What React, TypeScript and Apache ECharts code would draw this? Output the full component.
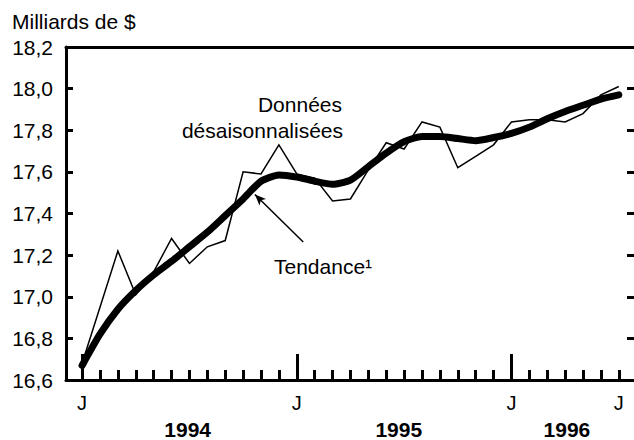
import React, { useEffect, useRef } from "react";
import * as echarts from "echarts";

// Monthly values, January 1994 (index 0) to July 1996 (index 30)
const seasonallyAdjusted = [
  16.68, 16.95, 17.22, 17.01, 17.12, 17.28, 17.16, 17.24, 17.27, 17.6, 17.59, 17.73,
  17.59, 17.57, 17.46, 17.47, 17.61, 17.74, 17.71, 17.84, 17.815, 17.62, 17.675, 17.73,
  17.84, 17.85, 17.85, 17.84, 17.88, 17.97, 18.01,
];
const trend = [
  16.67, 16.82, 16.94, 17.03, 17.105, 17.17, 17.24, 17.31, 17.39, 17.47, 17.555, 17.585,
  17.575, 17.555, 17.54, 17.56, 17.625, 17.69, 17.745, 17.77, 17.77, 17.76, 17.75, 17.765,
  17.785, 17.815, 17.855, 17.89, 17.92, 17.95, 17.97,
];
const monthTicks = seasonallyAdjusted.map((_, i) => i);
const yearStartTicks = [0, 12, 24];
const monthLabelValues = [0, 12, 24, 30];
const monthLabel = "J";
const yearLabels = ["1994", "1995", "1996"];
const yearLabelValues = [5.9, 17.7, 27.1];
const yMin = 16.6;
const yMax = 18.2;
const yStep = 0.2;

const FONT = "'Liberation Sans', Arial, Helvetica, sans-serif";

export default function App() {
  const ref = useRef<HTMLDivElement>(null);
  useEffect(() => {
    if (!ref.current) return;
    const chart = echarts.init(ref.current, undefined, { renderer: "svg" });
    const xMin = -0.9;
    const xMax = 30.85;
    const line = { lineStyle: { color: "#000", width: 3 } };
    chart.setOption({
      animation: false,
      backgroundColor: "#fff",
      grid: { left: 66, right: 0, top: 47, bottom: 55 },
      xAxis: [
        {
          type: "value",
          position: "bottom",
          min: xMin,
          max: xMax,
          axisLine: { show: true, onZero: false, ...line },
          axisTick: {
            show: true,
            inside: true,
            length: 10,
            customValues: monthTicks,
            lineStyle: { color: "#000", width: 3 },
          },
          axisLabel: {
            show: true,
            customValues: monthLabelValues,
            formatter: () => monthLabel,
            color: "#000",
            fontFamily: FONT,
            fontSize: 20,
            margin: 13,
          },
          splitLine: { show: false },
        },
        {
          type: "value",
          position: "bottom",
          min: xMin,
          max: xMax,
          axisLine: { show: false },
          axisTick: {
            show: true,
            inside: true,
            length: 26,
            customValues: yearStartTicks,
            lineStyle: { color: "#000", width: 3 },
          },
          axisLabel: {
            show: true,
            customValues: yearLabelValues,
            formatter: (v: number) => {
              const k = yearLabelValues.findIndex((p) => Math.abs(p - v) < 1e-6);
              return k >= 0 ? yearLabels[k] : "";
            },
            color: "#000",
            fontFamily: FONT,
            fontSize: 21,
            fontWeight: "bold",
            margin: 39,
          },
          splitLine: { show: false },
        },
        {
          type: "value",
          position: "top",
          min: xMin,
          max: xMax,
          axisLine: { show: true, onZero: false, ...line },
          axisTick: { show: false },
          axisLabel: { show: false },
          splitLine: { show: false },
        },
      ],
      yAxis: [
        {
          type: "value",
          position: "left",
          min: yMin,
          max: yMax,
          interval: yStep,
          axisLine: { show: true, onZero: false, ...line },
          axisTick: { show: true, inside: true, length: 7, lineStyle: { color: "#000", width: 3 } },
          axisLabel: {
            color: "#000",
            fontFamily: FONT,
            fontSize: 21,
            margin: 13,
            formatter: (v: number) => v.toFixed(1).replace(".", ","),
          },
          splitLine: { show: false },
        },
        {
          type: "value",
          position: "right",
          min: yMin,
          max: yMax,
          interval: yStep,
          axisLine: { show: false, onZero: false },
          axisTick: { show: true, inside: true, length: 7, lineStyle: { color: "#000", width: 3 } },
          axisLabel: { show: false },
          splitLine: { show: false },
        },
      ],
      series: [
        {
          type: "line",
          name: "Tendance",
          data: trend.map((v, i) => [i, v]),
          symbol: "none",
          smooth: 0.2,
          lineStyle: { color: "#000", width: 7, cap: "round", join: "round" },
          z: 2,
          markLine: {
            silent: true,
            symbol: ["none", "arrow"],
            symbolSize: [7, 11],
            label: { show: false },
            lineStyle: { color: "#000", width: 1.5, type: "solid" },
            data: [[{ coord: [12.36, 17.263] }, { coord: [9.66, 17.491] }]],
          },
        },
        {
          type: "line",
          name: "Données désaisonnalisées",
          data: seasonallyAdjusted.map((v, i) => [i, v]),
          symbol: "none",
          lineStyle: { color: "#000", width: 1.5, join: "miter" },
          z: 3,
        },
      ],
      graphic: [
        {
          type: "text",
          x: 12,
          y: 21,
          style: {
            text: "Milliards de $",
            fill: "#000",
            fontFamily: FONT,
            fontSize: 21,
            align: "left",
            verticalAlign: "middle",
          },
        },
        {
          type: "text",
          x: 342,
          y: 104,
          style: {
            text: "Données",
            fill: "#000",
            fontFamily: FONT,
            fontSize: 21,
            align: "right",
            verticalAlign: "middle",
          },
        },
        {
          type: "text",
          x: 343,
          y: 130,
          style: {
            text: "désaisonnalisées",
            fill: "#000",
            fontFamily: FONT,
            fontSize: 21,
            align: "right",
            verticalAlign: "middle",
          },
        },
        {
          type: "text",
          x: 274,
          y: 266,
          style: {
            text: "Tendance¹",
            fill: "#000",
            fontFamily: FONT,
            fontSize: 21,
            align: "left",
            verticalAlign: "middle",
          },
        },
      ],
    });
    return () => chart.dispose();
  }, []);
  return (
    <div
      ref={ref}
      style={{ position: "fixed", left: 0, top: 0, width: 634, height: 440, background: "#fff" }}
    />
  );
}
